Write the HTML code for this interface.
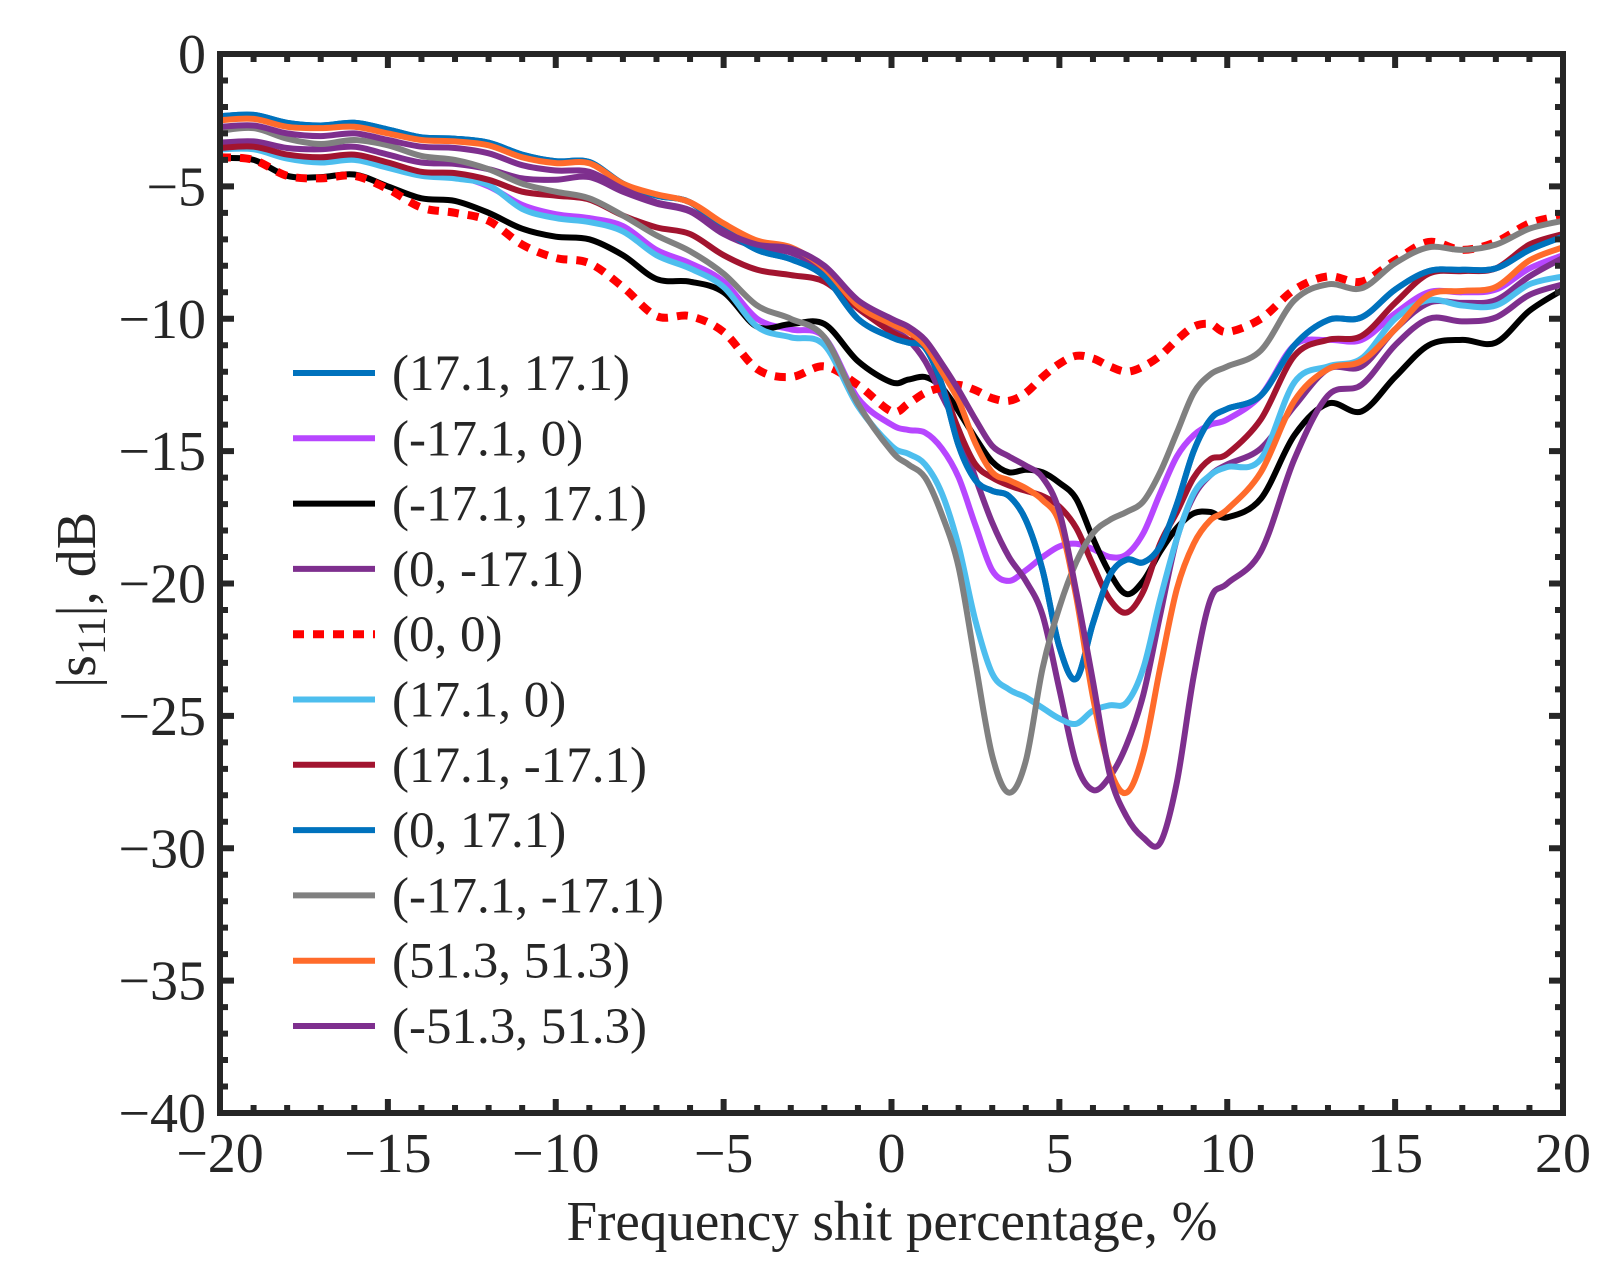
<!DOCTYPE html>
<html>
<head>
<meta charset="utf-8">
<style>
html,body{margin:0;padding:0;background:#fff;}
svg{display:block;}
text{font-family:"Liberation Serif",serif;fill:#262626;}
</style>
</head>
<body>
<svg id="chart" width="1606" height="1278" viewBox="0 0 1606 1278" xmlns="http://www.w3.org/2000/svg">
  <defs><clipPath id="plotclip"><rect x="220" y="54" width="1343" height="1059"/></clipPath></defs>
  <rect x="0" y="0" width="1606" height="1278" fill="#fff"/>
  <g id="series" clip-path="url(#plotclip)"></g>
  <g id="axes"></g>
  <g id="legend"></g>
  <text x="892" y="1240" font-size="56" text-anchor="middle" textLength="651" lengthAdjust="spacingAndGlyphs">Frequency shit percentage, %</text>
  <text transform="translate(95,600) rotate(-90)" font-size="56" text-anchor="middle">|s<tspan font-size="40" dy="10">11</tspan><tspan dy="-10">|, dB</tspan></text>
</svg>
<script>
const xValues = [-20,-19,-18,-17,-16,-15,-14,-13,-12,-11,-10,-9,-8,-7,-6,-5,-4,-3,-2,-1,0,0.5,1,1.5,2,2.5,3,3.5,4,4.5,5,5.5,6,6.5,7,7.5,8,8.5,9,9.5,10,11,12,13,14,15,16,17,18,19,20];
const xTicks = [-20,-15,-10,-5,0,5,10,15,20];
const yTicks = [0,-5,-10,-15,-20,-25,-30,-35,-40];
const xTickLabels = ["\u221220","\u221215","\u221210","\u22125","0","5","10","15","20"];
const yTickLabels = ["0","\u22125","\u221210","\u221215","\u221220","\u221225","\u221230","\u221235","\u221240"];

const s_17_17 = [2.35,2.3,2.6,2.7,2.6,2.85,3.15,3.2,3.35,3.8,4.05,4.08,4.9,5.35,5.6,6.6,7.4,7.75,8.4,10.0,10.7,10.9,11.1,12.5,14.8,16.1,16.5,16.7,17.6,19.5,22.4,23.6,21.5,19.7,19.1,19.2,18.6,17.0,15.0,13.8,13.4,12.9,11.0,10.05,9.95,8.9,8.2,8.15,8.1,7.4,6.9];
const s_m17_0 = [3.5,3.5,3.85,4.0,3.9,4.2,4.5,4.6,5.0,5.7,6.05,6.2,6.5,7.4,7.9,8.6,10.0,10.4,10.7,13.0,14.0,14.2,14.3,14.9,16.0,17.8,19.5,19.9,19.5,19.0,18.6,18.5,18.7,19.0,18.9,18.1,16.6,15.2,14.4,14.0,13.8,12.9,11.0,10.8,10.8,9.8,9.0,9.0,8.9,8.1,7.6];
const s_m17_17 = [3.93,4.0,4.6,4.65,4.55,5.0,5.45,5.55,6.0,6.6,6.9,7.0,7.6,8.5,8.6,9.0,10.3,10.2,10.2,11.6,12.4,12.3,12.2,12.6,13.5,14.5,15.4,15.8,15.7,15.8,16.2,16.8,18.3,19.6,20.4,19.9,18.8,17.9,17.35,17.3,17.5,16.8,14.4,13.2,13.5,12.2,11.0,10.8,10.9,9.7,8.9];
const s_0_m17 = [3.35,3.3,3.55,3.6,3.5,3.8,4.1,4.15,4.35,4.7,4.75,4.65,5.2,5.65,5.95,6.8,7.3,7.5,8.2,9.6,10.4,10.8,11.6,12.9,14.2,16.0,17.7,19.0,19.9,21.2,24.0,26.8,27.8,27.3,26.1,24.2,21.2,18.3,16.7,15.9,15.5,14.9,13.3,11.9,11.8,10.4,9.4,9.4,9.3,8.4,7.7];
const s_0_0 = [3.9,4.0,4.6,4.7,4.6,5.1,5.8,6.0,6.3,7.2,7.7,7.9,8.8,9.9,9.9,10.5,11.9,12.2,11.8,12.5,13.5,13.2,12.8,12.6,12.5,12.7,13.0,13.1,12.8,12.2,11.7,11.4,11.5,11.8,12.0,11.8,11.4,10.8,10.3,10.2,10.5,10.0,8.9,8.4,8.6,7.8,7.1,7.4,7.1,6.4,6.1];
const s_17_0 = [3.6,3.6,3.95,4.1,4.0,4.3,4.6,4.7,4.95,5.85,6.2,6.35,6.7,7.6,8.1,8.8,10.3,10.7,11.0,13.3,14.8,15.1,15.5,16.6,18.6,21.4,23.4,24.0,24.3,24.7,25.1,25.3,24.8,24.6,24.5,23.2,20.6,18.3,16.6,15.9,15.6,15.3,12.4,11.8,11.5,10.0,9.3,9.5,9.5,8.7,8.4];
const s_17_m17 = [3.55,3.5,3.8,3.9,3.8,4.1,4.45,4.5,4.75,5.2,5.35,5.5,6.1,6.55,6.8,7.6,8.15,8.35,8.6,9.6,10.5,10.8,11.0,12.5,14.2,15.5,16.0,16.3,16.5,16.7,17.1,17.9,19.3,20.6,21.1,20.3,18.5,17.3,16.0,15.3,15.1,13.8,11.4,10.8,10.65,9.4,8.3,8.2,8.1,7.2,6.8];
const s_0_17 = [2.35,2.3,2.6,2.7,2.6,2.85,3.15,3.2,3.35,3.8,4.05,4.08,4.9,5.35,5.6,6.6,7.4,7.75,8.4,10.0,10.7,10.9,11.1,12.5,14.8,16.1,16.5,16.7,17.6,19.5,22.4,23.6,21.5,19.7,19.1,19.2,18.6,17.0,15.0,13.8,13.4,12.9,11.0,10.05,9.95,8.9,8.2,8.15,8.1,7.4,6.9];
const s_m17_m17 = [2.9,2.8,3.2,3.4,3.25,3.45,3.85,4.0,4.35,4.9,5.2,5.45,6.1,6.85,7.45,8.3,9.5,10.0,10.7,13.2,15.0,15.5,16.0,17.4,19.4,23.0,26.5,27.9,26.7,23.2,20.9,19.2,18.1,17.6,17.3,16.9,15.8,14.3,12.8,12.1,11.8,11.2,9.3,8.7,8.85,7.9,7.3,7.4,7.2,6.6,6.3];
const s_51_51 = [2.5,2.45,2.75,2.8,2.75,3.0,3.25,3.3,3.45,3.9,4.12,4.13,4.9,5.3,5.6,6.4,7.05,7.3,8.1,9.5,10.2,10.5,11.0,12.0,13.1,14.7,15.8,16.1,16.4,16.85,17.7,20.5,24.3,27.0,27.9,26.4,23.2,20.2,18.5,17.6,17.2,15.8,13.1,11.9,11.6,10.4,9.1,8.95,8.8,7.8,7.3];
const s_m51_51 = [2.75,2.7,3.0,3.1,3.0,3.25,3.5,3.55,3.75,4.2,4.4,4.45,5.1,5.6,5.9,6.7,7.2,7.35,8.0,9.3,10.0,10.3,10.8,11.7,12.7,13.8,14.8,15.2,15.55,16.0,17.3,20.3,23.7,27.2,28.8,29.6,29.8,27.5,23.5,20.6,20.0,18.8,15.3,12.9,12.5,11.0,10.0,10.1,9.95,9.1,8.7];

const seriesLabels = ["(17.1, 17.1)","(-17.1, 0)","(-17.1, 17.1)","(0, -17.1)","(0, 0)","(17.1, 0)","(17.1, -17.1)","(0, 17.1)","(-17.1, -17.1)","(51.3, 51.3)","(-51.3, 51.3)"];
const seriesData = [s_17_17,s_m17_0,s_m17_17,s_0_m17,s_0_0,s_17_0,s_17_m17,s_0_17,s_m17_m17,s_51_51,s_m51_51];
const seriesColors = ["#0072BD","#B746FF","#000000","#7E2F8E","#FF0000","#4DBEEE","#A2142F","#0072BD","#808080","#FF6B2B","#7E2F8E"];

const NS = "http://www.w3.org/2000/svg";
const X0 = 220, X1 = 1563, Y0 = 54, Y1 = 1113;
function sx(v){ return X0 + (v + 20) / 40 * (X1 - X0); }
function sy(v){ return Y0 + (0 - v) / 40 * (Y1 - Y0); }
function mk(tag, attrs){ const e = document.createElementNS(NS, tag); for (const k in attrs) e.setAttribute(k, attrs[k]); return e; }
function smoothPath(pts){
  let d = "M" + pts[0][0].toFixed(1) + "," + pts[0][1].toFixed(1);
  for (let i = 0; i < pts.length - 1; i++) {
    const p0 = pts[Math.max(0, i - 1)], p1 = pts[i], p2 = pts[i + 1], p3 = pts[Math.min(pts.length - 1, i + 2)];
    const c1x = p1[0] + (p2[0] - p0[0]) / 6, c1y = p1[1] + (p2[1] - p0[1]) / 6;
    const c2x = p2[0] - (p3[0] - p1[0]) / 6, c2y = p2[1] - (p3[1] - p1[1]) / 6;
    d += " C" + c1x.toFixed(1) + "," + c1y.toFixed(1) + " " + c2x.toFixed(1) + "," + c2y.toFixed(1) + " " + p2[0].toFixed(1) + "," + p2[1].toFixed(1);
  }
  return d;
}

const gS = document.getElementById("series");
seriesData.forEach((vals, i) => {
  const pts = xValues.map((x, j) => [sx(x), sy(-vals[j])]);
  const p = mk("path", {d: smoothPath(pts), fill: "none", stroke: seriesColors[i], "stroke-width": i === 4 ? 8 : 6, "stroke-linejoin": "round"});
  if (i === 4) p.setAttribute("stroke-dasharray", "11 9");
  
  
  gS.appendChild(p);
});

const gA = document.getElementById("axes");
const frame = mk("rect", {x: X0, y: Y0, width: X1 - X0, height: Y1 - Y0, fill: "none", stroke: "#262626", "stroke-width": 6});


gA.appendChild(frame);
let tickD = "";
for (let v = -20; v <= 20; v++) {
  const len = (v % 5 === 0) ? 14 : 8; const x = sx(v);
  tickD += "M" + x + "," + Y1 + "v" + (-len) + "M" + x + "," + Y0 + "v" + len;
}
for (let v = 0; v >= -40; v--) {
  const len = (v % 5 === 0) ? 14 : 8; const y = sy(v);
  tickD += "M" + X0 + "," + y + "h" + len + "M" + X1 + "," + y + "h" + (-len);
}
const ticks = mk("path", {d: tickD, stroke: "#262626", "stroke-width": 6, fill: "none"});


gA.appendChild(ticks);
xTicks.forEach((v, i) => {
  const t = mk("text", {x: sx(v), y: 1172, "font-size": 56, "text-anchor": "middle"});
  t.textContent = xTickLabels[i];
  
  
  gA.appendChild(t);
});
yTicks.forEach((v, i) => {
  const t = mk("text", {x: 206, y: sy(v) + 19, "font-size": 56, "text-anchor": "end"});
  t.textContent = yTickLabels[i];
  
  
  gA.appendChild(t);
});

const gL = document.getElementById("legend");
seriesLabels.forEach((lab, i) => {
  const y = 373 + i * 65.3;
  const g = mk("g", {});
  
  
  const ln = mk("line", {x1: 293, x2: 375, y1: y, y2: y, stroke: seriesColors[i], "stroke-width": i === 4 ? 8 : 6});
  if (i === 4) ln.setAttribute("stroke-dasharray", "11 9");
  
  
  const t = mk("text", {x: 392, y: y + 17, "font-size": 51});
  t.textContent = lab;
  
  
  g.appendChild(ln); g.appendChild(t); gL.appendChild(g);
});
</script>
</body>
</html>
